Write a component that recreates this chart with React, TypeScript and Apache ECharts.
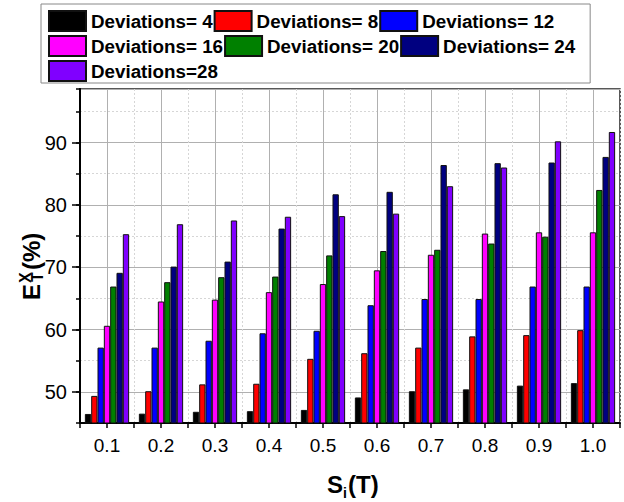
import React, { useEffect, useRef } from "react";
import * as echarts from "echarts";

const categories = ["0.1", "0.2", "0.3", "0.4", "0.5", "0.6", "0.7", "0.8", "0.9", "1.0"];
const seriesNames = [
  "Deviations= 4",
  "Deviations= 8",
  "Deviations= 12",
  "Deviations= 16",
  "Deviations= 20",
  "Deviations= 24",
  "Deviations=28",
];
const dev4 = [46.45, 46.5, 46.8, 46.9, 47.1, 49.1, 50.1, 50.4, 51.0, 51.4];
const dev8 = [49.35, 50.1, 51.2, 51.3, 55.3, 56.2, 57.1, 58.9, 59.1, 59.9];
const dev12 = [57.1, 57.1, 58.2, 59.4, 59.8, 63.9, 64.9, 64.9, 66.9, 66.9];
const dev16 = [60.6, 64.5, 64.8, 66.0, 67.3, 69.5, 72.0, 75.4, 75.6, 75.6];
const dev20 = [66.9, 67.6, 68.4, 68.5, 71.9, 72.6, 72.8, 73.8, 74.9, 82.4];
const dev24 = [69.1, 70.1, 70.9, 76.2, 81.7, 82.1, 86.4, 86.7, 86.8, 87.7];
const dev28 = [75.3, 76.9, 77.5, 78.1, 78.2, 78.6, 83.0, 86.0, 90.2, 91.7];
const seriesValues = [dev4, dev8, dev12, dev16, dev20, dev24, dev28];
const colors = ["#000000", "#ff0000", "#0000ff", "#ff00ff", "#008000", "#000080", "#8000ff"];

const FONT = "'Liberation Sans', Arial, sans-serif";

export default function App() {
  const ref = useRef<HTMLDivElement>(null);
  useEffect(() => {
    if (!ref.current) return;
    const chart = echarts.init(ref.current, null, { renderer: "svg" });
    const halfTicks: string[] = [];
    for (let i = 0; i <= categories.length * 2; i++) halfTicks.push("");
    chart.setOption({
      animation: false,
      backgroundColor: "#ffffff",
      textStyle: { fontFamily: FONT },
      grid: {
        left: 80,
        right: 4,
        top: 89,
        bottom: 79,
        show: true,
        borderColor: "#222",
        borderWidth: 1.5,
        backgroundColor: "transparent",
      },
      legend: {
        left: 41,
        top: 4,
        width: 560,
        padding: [5, 15, 0, 7],
        itemGap: 1,
        itemWidth: 37,
        itemHeight: 20,
        icon: "rect",
        borderColor: "#888",
        borderWidth: 1,
        textStyle: { fontSize: 18.8, fontWeight: "bold", color: "#000", fontFamily: FONT, lineHeight: 24 },
        data: seriesNames,
      },
      xAxis: [
        {
          type: "category",
          data: categories,
          position: "bottom",
          boundaryGap: true,
          axisLine: { show: true, lineStyle: { color: "#000", width: 2 } },
          axisTick: { show: false },
          axisLabel: { interval: 0, fontSize: 19, color: "#000", margin: 13, fontFamily: FONT },
          splitLine: { show: true, interval: 0, lineStyle: { color: "#d6d6d6", type: [2, 2], width: 1 } },
        },
        {
          type: "category",
          data: halfTicks,
          position: "bottom",
          boundaryGap: false,
          axisLine: { show: false },
          axisTick: { show: true, interval: 0, length: 5, lineStyle: { color: "#000", width: 1.5 } },
          axisLabel: { show: false },
          splitLine: {
            show: true,
            interval: (index: number) => index % 2 === 1,
            lineStyle: { color: "#b0b0b0", width: 1 },
          },
        },
      ],
      yAxis: [
        {
          type: "value",
          min: 45,
          max: 98.6,
          interval: 5,
          position: "left",
          axisLine: { show: true, lineStyle: { color: "#000", width: 2 } },
          axisTick: { show: true, length: 4, lineStyle: { color: "#000", width: 1.5 } },
          axisLabel: { show: false },
          splitLine: { show: true, lineStyle: { color: "#d6d6d6", type: [2, 2], width: 1 } },
        },
        {
          type: "value",
          min: 45,
          max: 98.6,
          position: "left",
          offset: 0,
          axisLine: { show: true, lineStyle: { color: "#000", width: 2 } },
          axisTick: { show: true, length: 8, lineStyle: { color: "#000", width: 1.5 } },
          axisLabel: {
            fontSize: 20,
            color: "#000",
            margin: 13,
            fontFamily: FONT,
            showMinLabel: false,
            showMaxLabel: false,
            formatter: (v: number) => (Math.abs(v % 10) < 1e-6 ? String(v) : ""),
          },
          splitLine: { show: true, lineStyle: { color: "#b0b0b0", width: 1 } },
        },
      ],
      series: seriesNames.map((name, i) => ({
        name,
        type: "bar",
        xAxisIndex: 0,
        yAxisIndex: 0,
        data: seriesValues[i],
        barGap: "0%",
        barCategoryGap: "18%",
        itemStyle: { color: colors[i], borderColor: "#111", borderWidth: 1 },
      })),
      graphic: [
        {
          type: "group",
          x: 31,
          y: 300,
          rotation: Math.PI / 2,
          children: [
            { type: "text", x: 0, y: 0, style: { text: "E", font: `bold 24px ${FONT}`, fill: "#000", align: "left", verticalAlign: "middle" } },
            { type: "text", x: 17, y: -6, style: { text: "X", font: `bold 16px ${FONT}`, fill: "#000", align: "left", verticalAlign: "middle" } },
            { type: "text", x: 18, y: 6, style: { text: "T", font: `bold 16px ${FONT}`, fill: "#000", align: "left", verticalAlign: "middle" } },
            { type: "text", x: 30, y: 0, style: { text: "(%)", font: `bold 24px ${FONT}`, fill: "#000", align: "left", verticalAlign: "middle" } },
          ],
        },
        {
          type: "group",
          x: 327,
          y: 484,
          children: [
            { type: "text", x: 0, y: 0, style: { text: "S", font: `bold 24px ${FONT}`, fill: "#000", align: "left", verticalAlign: "middle" } },
            { type: "text", x: 16, y: 9, style: { text: "i", font: `bold 14px ${FONT}`, fill: "#000", align: "left", verticalAlign: "middle" } },
            { type: "text", x: 21, y: 0, style: { text: "(T)", font: `bold 24px ${FONT}`, fill: "#000", align: "left", verticalAlign: "middle" } },
          ],
        },
      ],
    });
    return () => chart.dispose();
  }, []);
  return (
    <div
      ref={ref}
      style={{ position: "fixed", left: 0, top: 0, width: 624, height: 502, background: "#fff" }}
    />
  );
}
